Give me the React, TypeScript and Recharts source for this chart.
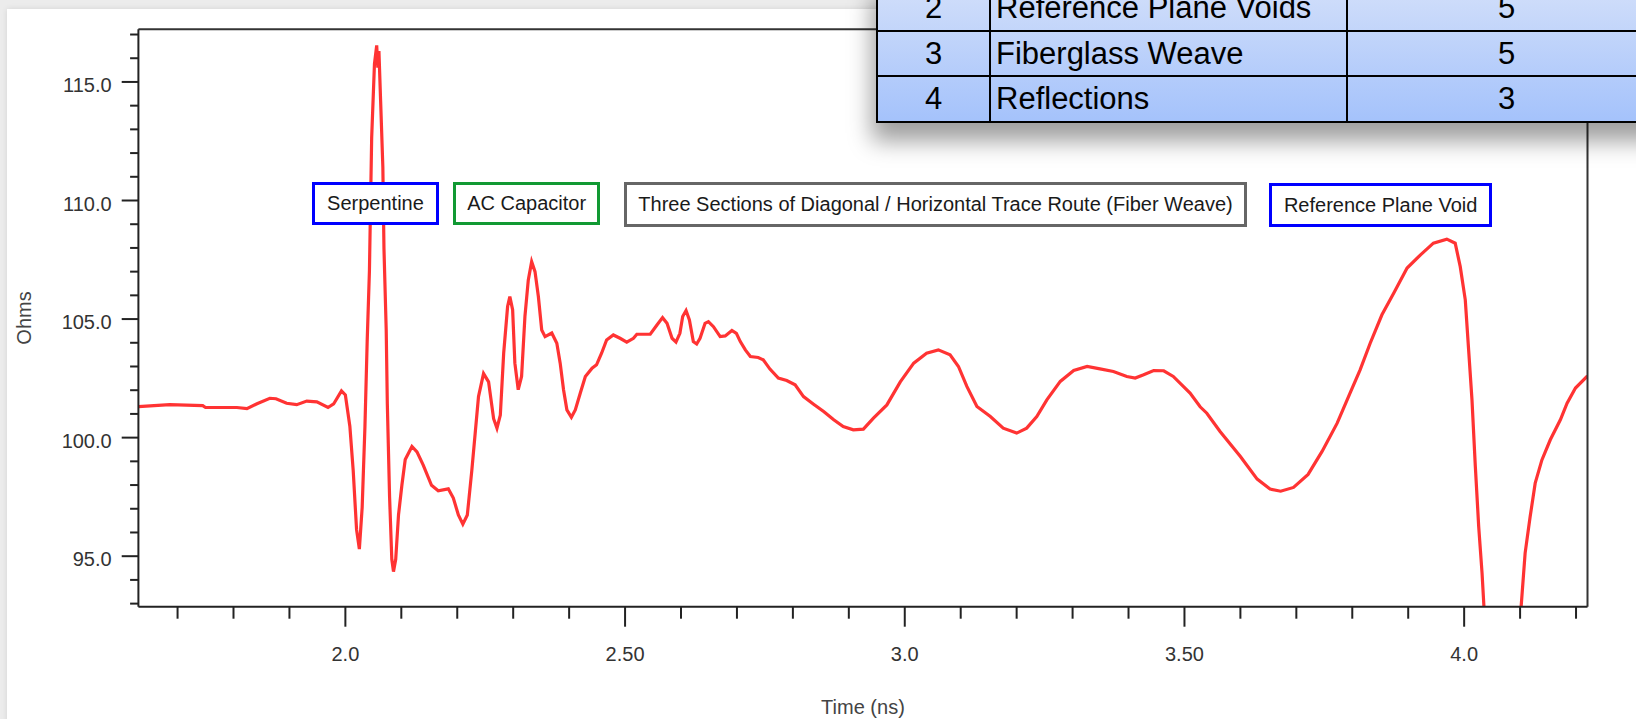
import React from 'react';
import { LineChart, Line, XAxis, YAxis, ReferenceLine } from 'recharts';

const FONT = "'Liberation Sans', Arial, Helvetica, sans-serif";

const timeNs = [
  1.630, 1.686, 1.745, 1.750, 1.806, 1.824, 1.841, 1.865, 1.876, 1.895,
  1.913, 1.931, 1.949, 1.969, 1.979, 1.993, 2.000, 2.008, 2.014, 2.020,
  2.025, 2.030, 2.035, 2.039, 2.043, 2.047, 2.052, 2.056, 2.058, 2.060,
  2.063, 2.067, 2.069, 2.073, 2.075, 2.079, 2.083, 2.086, 2.090, 2.095,
  2.101, 2.107, 2.119, 2.128, 2.139, 2.154, 2.166, 2.184, 2.193, 2.202,
  2.210, 2.218, 2.226, 2.232, 2.238, 2.247, 2.256, 2.265, 2.271, 2.277,
  2.283, 2.290, 2.294, 2.299, 2.303, 2.309, 2.315, 2.321, 2.327, 2.333,
  2.339, 2.345, 2.351, 2.357, 2.369, 2.378, 2.384, 2.390, 2.396, 2.404,
  2.411, 2.420, 2.429, 2.441, 2.449, 2.458, 2.467, 2.479, 2.491, 2.503,
  2.515, 2.521, 2.545, 2.557, 2.567, 2.575, 2.584, 2.591, 2.598, 2.603,
  2.609, 2.615, 2.622, 2.628, 2.634, 2.643, 2.649, 2.658, 2.670, 2.679,
  2.691, 2.699, 2.706, 2.715, 2.724, 2.738, 2.747, 2.759, 2.774, 2.789,
  2.804, 2.819, 2.837, 2.855, 2.873, 2.890, 2.908, 2.926, 2.944, 2.968,
  2.992, 3.016, 3.039, 3.060, 3.081, 3.096, 3.111, 3.129, 3.153, 3.176,
  3.200, 3.218, 3.236, 3.254, 3.278, 3.302, 3.326, 3.349, 3.373, 3.397,
  3.412, 3.427, 3.445, 3.463, 3.480, 3.510, 3.528, 3.540, 3.564, 3.600,
  3.630, 3.653, 3.672, 3.695, 3.721, 3.746, 3.773, 3.796, 3.814, 3.832,
  3.853, 3.874, 3.898, 3.922, 3.945, 3.969, 3.984, 3.993, 4.002, 4.008,
  4.014, 4.020, 4.026, 4.032, 4.036, 4.045, 4.068, 4.092, 4.101, 4.109,
  4.118, 4.127, 4.139, 4.154, 4.172, 4.184, 4.199, 4.2205,
];

const ohmValues = [
  101.31, 101.39, 101.35, 101.27, 101.27, 101.22, 101.42, 101.66, 101.64, 101.45,
  101.39, 101.54, 101.51, 101.27, 101.42, 101.97, 101.80, 100.48, 98.61, 96.12,
  95.30, 97.05, 100.48, 104.07, 107.03, 112.64, 115.76, 116.54, 115.60, 116.30,
  114.20, 111.40, 107.97, 104.54, 101.42, 97.52, 94.87, 94.35, 94.87, 96.74,
  97.99, 99.08, 99.63, 99.40, 98.85, 97.99, 97.76, 97.84, 97.45, 96.74,
  96.35, 96.74, 98.61, 100.17, 101.73, 102.70, 102.35, 100.80, 100.40, 100.95,
  103.56, 105.53, 105.95, 105.39, 103.14, 102.02, 102.58, 105.11, 106.65, 107.42,
  107.00, 105.95, 104.54, 104.26, 104.41, 103.98, 103.14, 102.02, 101.17, 100.86,
  101.17, 101.88, 102.58, 102.93, 103.07, 103.56, 104.12, 104.33, 104.19, 104.03,
  104.19, 104.36, 104.36, 104.75, 105.06, 104.82, 104.19, 104.03, 104.40, 105.11,
  105.36, 104.96, 104.05, 103.95, 104.19, 104.82, 104.89, 104.68, 104.26, 104.29,
  104.52, 104.40, 104.05, 103.70, 103.42, 103.38, 103.28, 102.89, 102.51, 102.41,
  102.23, 101.73, 101.41, 101.10, 100.75, 100.47, 100.33, 100.36, 100.82, 101.38,
  102.35, 103.14, 103.56, 103.70, 103.49, 103.00, 102.16, 101.31, 100.89, 100.40,
  100.19, 100.40, 100.89, 101.59, 102.37, 102.83, 103.00, 102.90, 102.79, 102.58,
  102.51, 102.65, 102.83, 102.82, 102.58, 101.88, 101.30, 101.03, 100.25, 99.20,
  98.25, 97.83, 97.74, 97.90, 98.45, 99.42, 100.61, 101.88, 102.86, 103.98,
  105.18, 106.09, 107.15, 107.71, 108.20, 108.37, 108.20, 107.21, 105.81, 103.70,
  101.59, 98.78, 96.25, 94.29, 92.60, 90.00, 87.50, 90.00, 92.60, 95.13,
  96.67, 98.08, 99.06, 99.91, 100.75, 101.45, 102.09, 102.60,
];

const yTicks = [93, 94, 95, 96, 97, 98, 99, 100, 101, 102, 103, 104, 105, 106, 107, 108, 109, 110, 111, 112, 113, 114, 115, 116, 117];
const yLabelTicks = [95, 100, 105, 110, 115];
const yLabelText = ['95.0', '100.0', '105.0', '110.0', '115.0'];

const xTicks = [1.7, 1.8, 1.9, 2.0, 2.1, 2.2, 2.3, 2.4, 2.5, 2.6, 2.7, 2.8, 2.9, 3.0, 3.1, 3.2, 3.3, 3.4, 3.5, 3.6, 3.7, 3.8, 3.9, 4.0, 4.1, 4.2];
const xLabelTicks = [2.0, 2.5, 3.0, 3.5, 4.0];
const xLabelText = ['2.0', '2.50', '3.0', '3.50', '4.0'];

const annotationTexts = ['Serpentine', 'AC Capacitor', 'Three Sections of Diagonal / Horizontal Trace Route (Fiber Weave)', 'Reference Plane Void'];
const annotationColors = ['#0000ff', '#119933', '#666666', '#0000ff'];

const tableIds = ['2', '3', '4'];
const tableNames = ['Reference Plane Voids', 'Fiberglass Weave', 'Reflections'];
const tableCounts = ['5', '5', '3'];

const X_MIN = 1.63;
const X_MAX = 4.2205;
const Y_MIN = 92.87;
const Y_MAX = 117.22;

const data = timeNs.map((t, i) => ({ t, v: ohmValues[i] }));

const XTick = (props: any) => {
  const { x, y, payload } = props;
  const idx = xLabelTicks.findIndex((v) => Math.abs(v - payload.value) < 1e-6);
  const major = idx >= 0;
  return (
    <g>
      <line x1={x} x2={x} y1={y} y2={y + (major ? 20 : 12)} stroke="#222" strokeWidth={2} />
      {major && (
        <text x={x} y={y + 54} textAnchor="middle" fontSize={20} fill="#333" fontFamily={FONT}>
          {xLabelText[idx]}
        </text>
      )}
    </g>
  );
};

const YTick = (props: any) => {
  const { x, y, payload } = props;
  const idx = yLabelTicks.findIndex((v) => Math.abs(v - payload.value) < 1e-6);
  const major = idx >= 0;
  return (
    <g>
      <line x1={x - (major ? 16.7 : 8.3)} x2={x} y1={y} y2={y} stroke="#222" strokeWidth={2} />
      {major && (
        <text x={x - 26.7} y={y + 10} textAnchor="end" fontSize={20} fill="#333" fontFamily={FONT}>
          {yLabelText[idx]}
        </text>
      )}
    </g>
  );
};

const boxLayout = [
  { left: 311.7, top: 181.7, width: 127.6, height: 43.6 },
  { left: 453.3, top: 181.7, width: 146.7, height: 43.6 },
  { left: 624.3, top: 182.0, width: 622.4, height: 44.7 },
  { left: 1269.0, top: 183.3, width: 223.3, height: 44.0 },
];

export default function App() {
  return (
    <div style={{ position: 'fixed', left: 0, top: 0, width: 1636, height: 719, overflow: 'hidden', background: '#ececec' }}>
      <div style={{ position: 'absolute', left: 7, top: 9, width: 1700, height: 800, background: '#ffffff', boxShadow: '0 0 6px rgba(0,0,0,0.10)' }} />
      <div style={{ position: 'absolute', left: 0, top: 0 }}>
        <LineChart width={1636} height={719} data={data} margin={{ top: 29.3, right: 48.5, bottom: 0, left: 0 }}>
          <XAxis
            dataKey="t"
            type="number"
            domain={[X_MIN, X_MAX]}
            ticks={xTicks}
            interval={0}
            tick={(p: any) => <XTick {...p} />}
            tickLine={false}
            tickSize={0}
            tickMargin={0}
            height={112.3}
            axisLine={{ stroke: '#222', strokeWidth: 2 }}
            allowDataOverflow
            label={{ value: 'Time (ns)', position: 'insideBottom', offset: 5, fontSize: 20, fill: '#444', fontFamily: FONT }}
          />
          <YAxis
            dataKey="v"
            type="number"
            domain={[Y_MIN, Y_MAX]}
            ticks={yTicks}
            interval={0}
            tick={(p: any) => <YTick {...p} />}
            tickLine={false}
            tickSize={0}
            tickMargin={0}
            width={138.4}
            axisLine={{ stroke: '#222', strokeWidth: 2 }}
            allowDataOverflow
            label={{ value: 'Ohms', angle: -90, position: 'insideLeft', offset: 24, fontSize: 20, fill: '#444', fontFamily: FONT, style: { textAnchor: 'middle' } }}
          />
          <Line
            type="linear"
            dataKey="v"
            stroke="#ff3333"
            strokeWidth={3.2}
            dot={false}
            activeDot={false}
            isAnimationActive={false}
          />
          <ReferenceLine y={Y_MAX} stroke="#333" strokeWidth={2} />
          <ReferenceLine x={X_MAX} stroke="#333" strokeWidth={2} />
        </LineChart>
      </div>
      {annotationTexts.map((txt, i) => (
        <div
          key={txt}
          style={{
            position: 'absolute',
            left: boxLayout[i].left,
            top: boxLayout[i].top,
            width: boxLayout[i].width,
            height: boxLayout[i].height,
            boxSizing: 'border-box',
            border: `3px solid ${annotationColors[i]}`,
            background: '#ffffff',
            display: 'flex',
            alignItems: 'center',
            justifyContent: 'center',
            fontFamily: FONT,
            fontSize: 20,
            color: '#1a1a1a',
            whiteSpace: 'nowrap',
          }}
        >
          {txt}
        </div>
      ))}
      <div
        style={{
          position: 'absolute',
          left: 876,
          top: -15.3,
          width: 804,
          boxShadow: '0 14px 22px 4px rgba(0,0,0,0.38)',
          background: 'linear-gradient(to bottom, #d2dffa, #a4c2fb)',
        }}
      >
        <table style={{ borderCollapse: 'collapse', width: '100%', tableLayout: 'fixed', fontFamily: FONT, fontSize: 31, color: '#000' }}>
          <colgroup>
            <col style={{ width: 113 }} />
            <col style={{ width: 357 }} />
            <col />
          </colgroup>
          <tbody>
            {tableIds.map((id, i) => (
              <tr key={id} style={{ height: 45.3 }}>
                <td style={{ border: '2.5px solid #000', textAlign: 'center', padding: 0, lineHeight: '40px' }}>{id}</td>
                <td style={{ border: '2.5px solid #000', textAlign: 'left', padding: '0 0 0 5px', lineHeight: '40px', whiteSpace: 'nowrap' }}>{tableNames[i]}</td>
                <td style={{ border: '2.5px solid #000', textAlign: 'left', padding: '0 0 0 150px', lineHeight: '40px' }}>{tableCounts[i]}</td>
              </tr>
            ))}
          </tbody>
        </table>
      </div>
    </div>
  );
}
